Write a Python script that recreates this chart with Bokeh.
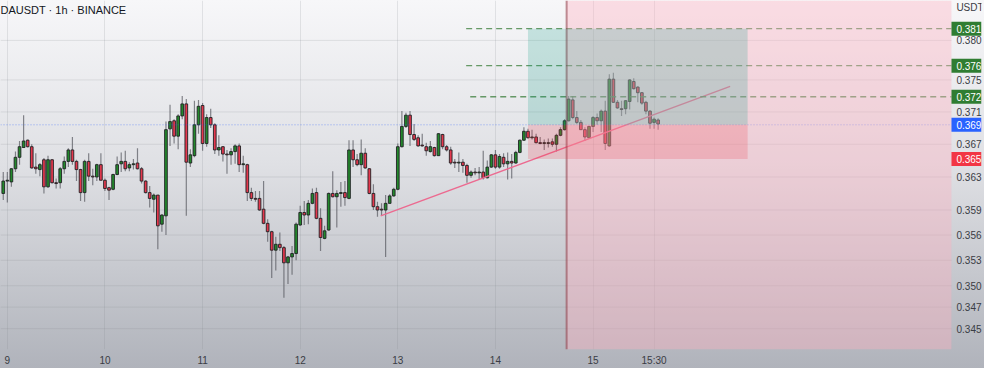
from bokeh.plotting import figure
from bokeh.models import Range1d, FixedTicker, BoxAnnotation, Span, Label, ColumnDataSource
from bokeh.core.properties import value
from bokeh.embed import file_html
from bokeh.resources import INLINE

# ---------------- data ----------------
title_text = "DAUSDT · 1h · BINANCE"
currency = "USDT"

bars = list(range(-1, 161))  # hourly bar index, 0 = day 9 first bar
opens = [0.3610, 0.3625, 0.3624, 0.3640, 0.3654, 0.3666, 0.3675, 0.3667, 0.3642, 0.3639,
         0.3651, 0.3618, 0.3651, 0.3623, 0.3623, 0.3640, 0.3649, 0.3663, 0.3649, 0.3639,
         0.3611, 0.3649, 0.3631, 0.3630, 0.3645, 0.3626, 0.3617, 0.3615, 0.3633, 0.3646,
         0.3649, 0.3641, 0.3645, 0.3647, 0.3640, 0.3625, 0.3611, 0.3603, 0.3608, 0.3573,
         0.3583, 0.3689, 0.3699, 0.3680, 0.3705, 0.3720, 0.3647, 0.3656, 0.3694, 0.3718,
         0.3671, 0.3703, 0.3694, 0.3663, 0.3667, 0.3658, 0.3657, 0.3661, 0.3668, 0.3645,
         0.3645, 0.3611, 0.3604, 0.3604, 0.3591, 0.3574, 0.3564, 0.3542, 0.3549, 0.3545,
         0.3527, 0.3534, 0.3538, 0.3572, 0.3587, 0.3584, 0.3598, 0.3611, 0.3580, 0.3556,
         0.3566, 0.3610, 0.3606, 0.3610, 0.3611, 0.3604, 0.3663, 0.3651, 0.3645, 0.3659,
         0.3640, 0.3610, 0.3594, 0.3591, 0.3590, 0.3598, 0.3607, 0.3615, 0.3667, 0.3692,
         0.3706, 0.3682, 0.3678, 0.3669, 0.3667, 0.3661, 0.3666, 0.3656, 0.3682, 0.3667,
         0.3663, 0.3648, 0.3647, 0.3648, 0.3644, 0.3632, 0.3636, 0.3635, 0.3636, 0.3629,
         0.3642, 0.3657, 0.3642, 0.3654, 0.3646, 0.3649, 0.3647, 0.3660, 0.3675, 0.3686,
         0.3678, 0.3679, 0.3672, 0.3671, 0.3671, 0.3673, 0.3670, 0.3681, 0.3688, 0.3699,
         0.3725, 0.3703, 0.3697, 0.3688, 0.3678, 0.3692, 0.3703, 0.3699, 0.3711, 0.3668,
         0.3751, 0.3722, 0.3714, 0.3714, 0.3723, 0.3748, 0.3741, 0.3734, 0.3722, 0.3711,
         0.3697, 0.3700]
highs = [0.3636, 0.3636, 0.3641, 0.3661, 0.3674, 0.3706, 0.3676, 0.3670, 0.3659, 0.3647,
         0.3653, 0.3656, 0.3652, 0.3628, 0.3642, 0.3655, 0.3665, 0.3679, 0.3651, 0.3640,
         0.3651, 0.3659, 0.3640, 0.3646, 0.3659, 0.3628, 0.3618, 0.3634, 0.3655, 0.3660,
         0.3662, 0.3648, 0.3652, 0.3665, 0.3642, 0.3626, 0.3619, 0.3610, 0.3608, 0.3585,
         0.3698, 0.3719, 0.3701, 0.3707, 0.3730, 0.3726, 0.3664, 0.3724, 0.3725, 0.3721,
         0.3707, 0.3714, 0.3696, 0.3681, 0.3668, 0.3663, 0.3665, 0.3670, 0.3671, 0.3656,
         0.3646, 0.3617, 0.3613, 0.3613, 0.3625, 0.3579, 0.3565, 0.3558, 0.3563, 0.3547,
         0.3535, 0.3547, 0.3575, 0.3595, 0.3601, 0.3602, 0.3616, 0.3617, 0.3592, 0.3571,
         0.3611, 0.3637, 0.3614, 0.3624, 0.3625, 0.3675, 0.3675, 0.3658, 0.3676, 0.3665,
         0.3641, 0.3621, 0.3600, 0.3598, 0.3608, 0.3609, 0.3617, 0.3671, 0.3711, 0.3709,
         0.3711, 0.3695, 0.3681, 0.3683, 0.3672, 0.3674, 0.3667, 0.3684, 0.3683, 0.3669,
         0.3667, 0.3652, 0.3660, 0.3652, 0.3646, 0.3638, 0.3641, 0.3642, 0.3662, 0.3650,
         0.3658, 0.3663, 0.3658, 0.3659, 0.3660, 0.3658, 0.3662, 0.3676, 0.3691, 0.3689,
         0.3688, 0.3683, 0.3679, 0.3676, 0.3677, 0.3677, 0.3683, 0.3691, 0.3701, 0.3730,
         0.3730, 0.3711, 0.3700, 0.3691, 0.3693, 0.3705, 0.3708, 0.3713, 0.3724, 0.3757,
         0.3759, 0.3725, 0.3724, 0.3725, 0.3751, 0.3752, 0.3742, 0.3735, 0.3724, 0.3712,
         0.3703, 0.3702]
lows = [0.3602, 0.3599, 0.3618, 0.3636, 0.3645, 0.3666, 0.3666, 0.3640, 0.3634, 0.3631,
        0.3610, 0.3617, 0.3622, 0.3616, 0.3616, 0.3634, 0.3642, 0.3645, 0.3625, 0.3601,
        0.3600, 0.3625, 0.3620, 0.3625, 0.3626, 0.3613, 0.3602, 0.3614, 0.3632, 0.3636,
        0.3637, 0.3637, 0.3639, 0.3639, 0.3622, 0.3610, 0.3593, 0.3587, 0.3543, 0.3564,
        0.3560, 0.3668, 0.3671, 0.3664, 0.3701, 0.3583, 0.3642, 0.3654, 0.3683, 0.3662,
        0.3667, 0.3690, 0.3658, 0.3656, 0.3649, 0.3634, 0.3645, 0.3646, 0.3636, 0.3635,
        0.3601, 0.3601, 0.3600, 0.3589, 0.3573, 0.3552, 0.3509, 0.3518, 0.3541, 0.3486,
        0.3502, 0.3513, 0.3530, 0.3571, 0.3572, 0.3573, 0.3597, 0.3579, 0.3541, 0.3555,
        0.3565, 0.3605, 0.3569, 0.3594, 0.3595, 0.3603, 0.3642, 0.3643, 0.3632, 0.3640,
        0.3609, 0.3590, 0.3582, 0.3583, 0.3534, 0.3598, 0.3606, 0.3614, 0.3666, 0.3690,
        0.3668, 0.3674, 0.3667, 0.3667, 0.3656, 0.3660, 0.3655, 0.3656, 0.3664, 0.3661,
        0.3645, 0.3641, 0.3636, 0.3635, 0.3623, 0.3629, 0.3632, 0.3627, 0.3627, 0.3628,
        0.3641, 0.3640, 0.3640, 0.3642, 0.3627, 0.3628, 0.3646, 0.3659, 0.3674, 0.3677,
        0.3676, 0.3671, 0.3670, 0.3663, 0.3666, 0.3667, 0.3661, 0.3680, 0.3687, 0.3698,
        0.3701, 0.3695, 0.3688, 0.3674, 0.3677, 0.3685, 0.3694, 0.3685, 0.3663, 0.3667,
        0.3721, 0.3714, 0.3705, 0.3707, 0.3713, 0.3738, 0.3722, 0.3719, 0.3707, 0.3689,
        0.3689, 0.3688]
closes = [0.3625, 0.3626, 0.3640, 0.3654, 0.3667, 0.3674, 0.3667, 0.3641, 0.3640, 0.3645,
          0.3618, 0.3651, 0.3623, 0.3622, 0.3640, 0.3649, 0.3663, 0.3649, 0.3639, 0.3611,
          0.3649, 0.3631, 0.3630, 0.3645, 0.3626, 0.3616, 0.3614, 0.3633, 0.3645, 0.3649,
          0.3640, 0.3645, 0.3646, 0.3640, 0.3625, 0.3611, 0.3604, 0.3608, 0.3571, 0.3584,
          0.3688, 0.3698, 0.3680, 0.3705, 0.3720, 0.3648, 0.3657, 0.3694, 0.3717, 0.3671,
          0.3703, 0.3694, 0.3663, 0.3666, 0.3658, 0.3657, 0.3661, 0.3668, 0.3645, 0.3646,
          0.3611, 0.3604, 0.3603, 0.3590, 0.3574, 0.3564, 0.3542, 0.3549, 0.3545, 0.3527,
          0.3534, 0.3538, 0.3573, 0.3587, 0.3584, 0.3598, 0.3610, 0.3580, 0.3557, 0.3565,
          0.3610, 0.3606, 0.3610, 0.3611, 0.3605, 0.3663, 0.3651, 0.3645, 0.3659, 0.3641,
          0.3610, 0.3594, 0.3590, 0.3590, 0.3598, 0.3607, 0.3615, 0.3667, 0.3692, 0.3706,
          0.3682, 0.3676, 0.3668, 0.3668, 0.3662, 0.3667, 0.3656, 0.3683, 0.3667, 0.3663,
          0.3647, 0.3647, 0.3648, 0.3644, 0.3632, 0.3636, 0.3635, 0.3636, 0.3629, 0.3642,
          0.3657, 0.3642, 0.3655, 0.3646, 0.3649, 0.3647, 0.3660, 0.3675, 0.3686, 0.3678,
          0.3679, 0.3672, 0.3671, 0.3672, 0.3672, 0.3670, 0.3681, 0.3688, 0.3699, 0.3726,
          0.3703, 0.3697, 0.3688, 0.3679, 0.3692, 0.3703, 0.3699, 0.3711, 0.3671, 0.3751,
          0.3722, 0.3715, 0.3713, 0.3724, 0.3750, 0.3739, 0.3734, 0.3721, 0.3711, 0.3696,
          0.3701, 0.3695]

# x-axis ticks (bar index) and labels
x_ticks = [0, 24, 48, 72, 96, 120, 144, 159]
x_labels = ["9", "10", "11", "12", "13", "14", "15", "15:30"]
# price-axis ticks and labels
y_ticks = [0.3800, 0.3750, 0.3710, 0.3670, 0.3630, 0.3590, 0.3560, 0.3530, 0.3500, 0.3475, 0.3450]
y_labels = ["0.380", "0.375", "0.371", "0.367", "0.363", "0.359", "0.356", "0.353", "0.350", "0.347", "0.345"]

# drawings
level_prices = [0.3815, 0.3768, 0.3729]       # dashed horizontal levels
level_labels = ["0.381", "0.376", "0.372"]
level_starts = [112.8, 112.8, 113.8]
last_price = 0.3694
last_label = "0.369"
stop_price = 0.3652
stop_label = "0.365"
target_price = 0.3815
position_start, position_end = 128, 182
range_start = 137.5                            # highlighted future range
trend_x = [91.8, 177.7]
trend_y = [0.3583, 0.3742]

x_start, chart_right, x_end = -1.68, 232.1, 239.5   # chart pane ends at chart_right, price scale beyond
y_low, y_high = 0.3426, 0.38512

FONT = "Liberation Sans"
TXT = "#3a3c44"

# ---------------- figure ----------------
p = figure(width=984, height=368, output_backend="svg", toolbar_location=None,
           y_axis_type="log", y_axis_location="right",
           x_range=Range1d(x_start, x_end), y_range=Range1d(y_low, y_high),
           min_border_left=0, min_border_top=0, min_border_right=0, min_border_bottom=0)
p.background_fill_alpha = 0
p.border_fill_alpha = 0
p.outline_line_color = None
p.styles = {"background": "linear-gradient(180deg, #f7f7f9 0%, #dfe0e4 45%, #b0b3bb 100%)"}

p.xaxis.ticker = FixedTicker(ticks=x_ticks)
p.xaxis.major_label_overrides = {t: l for t, l in zip(x_ticks, x_labels)}
p.yaxis.ticker = FixedTicker(ticks=y_ticks)
p.yaxis.major_label_overrides = {t: l for t, l in zip(y_ticks, y_labels)}
for ax in (p.xaxis, p.yaxis):
    ax.axis_line_color = None
    ax.major_tick_line_color = None
    ax.minor_tick_line_color = None
    ax.major_tick_out = 0
    ax.major_tick_in = 0
    ax.major_label_text_font = FONT
    ax.major_label_text_font_size = "10px"
    ax.major_label_text_color = TXT
p.xaxis.major_label_standoff = 5
p.yaxis.major_label_standoff = -25
p.xgrid.grid_line_color = "#7f838d"
p.xgrid.grid_line_alpha = 0.18
p.ygrid.grid_line_color = None
# horizontal grid lines only across the chart pane
p.segment(x0=[x_start] * len(y_ticks), x1=[chart_right] * len(y_ticks), y0=y_ticks, y1=y_ticks,
          line_color="#7f838d", line_alpha=0.18, line_width=1)

# ---------------- candles ----------------
inc = [c >= o for o, c in zip(opens, closes)]
src = ColumnDataSource(dict(
    x=bars, o=opens, h=highs, l=lows, c=closes,
    top=[max(o, c) for o, c in zip(opens, closes)],
    bot=[min(o, c) for o, c in zip(opens, closes)],
    color=["#23892c" if i else "#e5384e" for i in inc],
))
p.segment(x0="x", x1="x", y0="h", y1="l", source=src, line_color="#55575e", line_alpha=0.7, line_width=1.2)
p.vbar(x="x", top="top", bottom="bot", width=0.66, source=src,
       fill_color="color", line_color="#202124", line_width=0.9)

# trend line
p.line(trend_x, trend_y, line_color="#ec6a90", line_width=1.4)

# dashed levels
p.segment(x0=level_starts, x1=[chart_right] * len(level_starts), y0=level_prices, y1=level_prices,
          line_color="#4d8a4d", line_alpha=0.85, line_width=1.4, line_dash="6 4")

# last price dotted line
p.segment(x0=[x_start], x1=[chart_right], y0=[last_price], y1=[last_price],
          line_color="#2962ff", line_alpha=0.5, line_width=1, line_dash="1 2")

# highlighted range (future)
p.add_layout(BoxAnnotation(left=range_start, right=chart_right, fill_color="#ffb0bf",
                           fill_alpha=0.38, line_color=None))
p.add_layout(Span(location=range_start, dimension="height", line_color="#8e3a46",
                  line_alpha=0.55, line_width=2))

# long position tool
p.add_layout(BoxAnnotation(left=position_start, right=position_end, bottom=last_price, top=target_price,
                           fill_color="#089981", fill_alpha=0.2, line_color=None))
p.add_layout(BoxAnnotation(left=position_start, right=position_end, bottom=stop_price, top=last_price,
                           fill_color="#f23645", fill_alpha=0.2, line_color=None))

# price badges on the price scale
badge_prices = level_prices + [last_price, stop_price]
badge_labels = level_labels + [last_label, stop_label]
badge_colors = ["#2f7d32", "#2f7d32", "#2f7d32", "#2962ff", "#f23645"]
n_b = len(badge_prices)
p.rect(x=[(chart_right + x_end) / 2] * n_b, y=badge_prices, width=x_end - chart_right, height=14,
       height_units="screen", fill_color=badge_colors, line_color=None)
p.text(x=[chart_right] * n_b, y=badge_prices, text=badge_labels, x_offset=5,
       text_baseline="middle", text_align="left", text_color="white",
       text_font=value(FONT), text_font_size="10px")

# title and currency
p.add_layout(Label(x=x_start, y=y_high, text=title_text, text_font=FONT, text_font_size="11px",
                   text_color="#131722", text_baseline="middle", x_offset=0, y_offset=-9))
p.add_layout(Label(x=chart_right, y=y_high, text=currency, text_font=FONT, text_font_size="10px",
                   text_color=TXT, text_baseline="middle", x_offset=5, y_offset=-7))

open("out.html", "w").write(file_html(p, INLINE))
